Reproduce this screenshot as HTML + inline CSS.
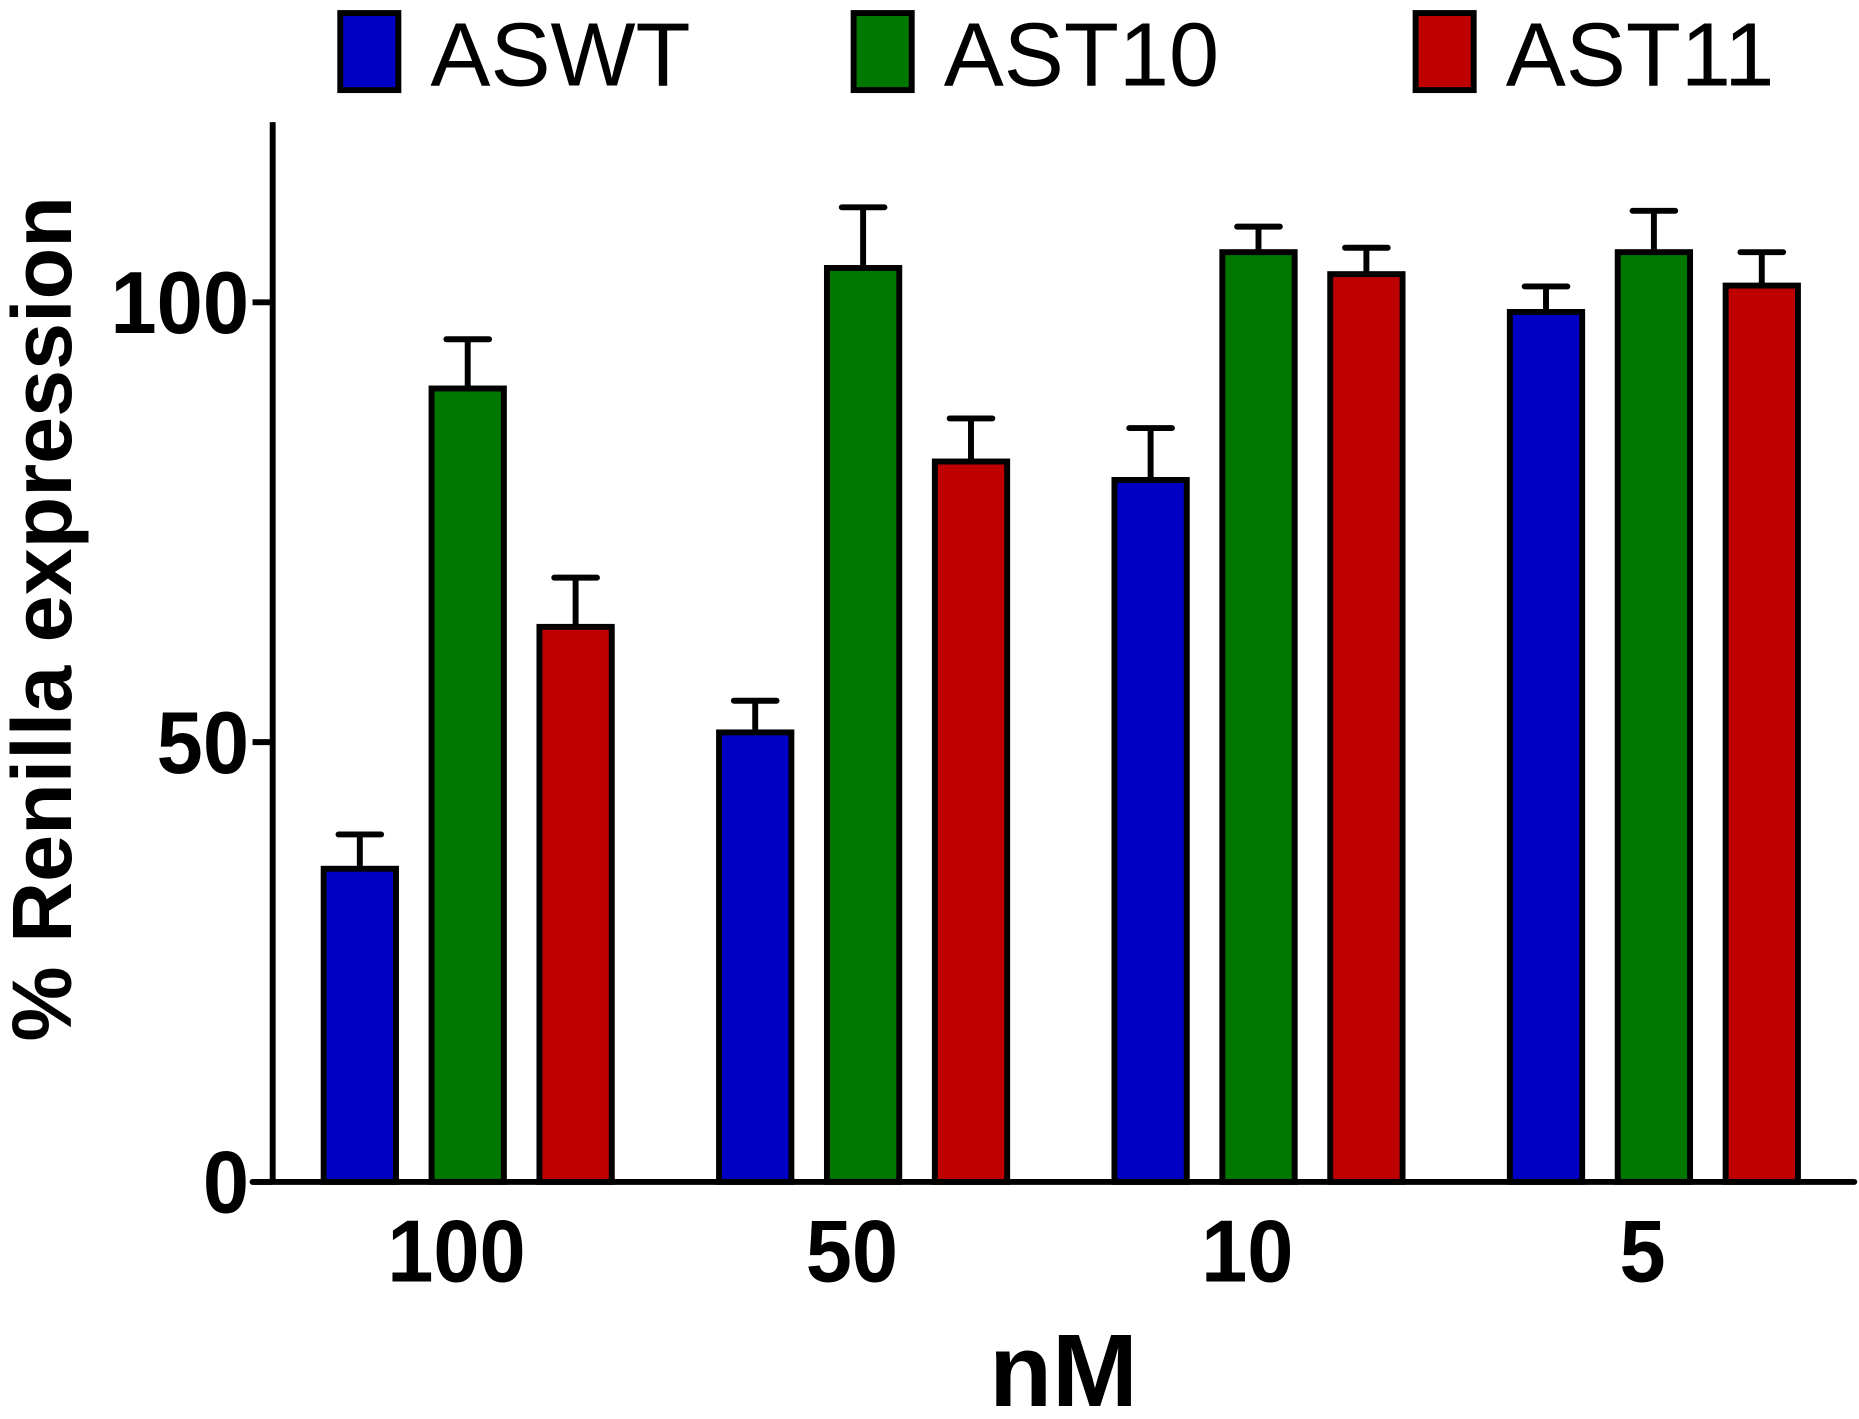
<!DOCTYPE html>
<html><head><meta charset="utf-8"><style>
html,body{margin:0;padding:0;background:#fff;}
svg{display:block;}
text{font-family:"Liberation Sans",sans-serif;}
</style></head><body>
<svg id="chart" width="1859" height="1419" viewBox="0 0 1568 1197" preserveAspectRatio="none" xmlns="http://www.w3.org/2000/svg">
<g id="legend"></g>
<g id="bars"></g>
<g id="axes"></g>
<text x="0" y="0" transform="translate(60,522) rotate(-90) scale(1.08,1.08)" text-anchor="middle" font-weight="bold" font-size="66">% Renilla expression</text>
<text x="0" y="0" transform="translate(897,1186) scale(1.06,1.06)" text-anchor="middle" font-weight="bold" font-size="82">nM</text>
</svg>
<script>
const categories = ["100", "50", "10", "5"];
const seriesNames = ["ASWT", "AST10", "AST11"];
const aswt = [35.6, 51.1, 79.8, 98.9];
const ast10 = [90.2, 103.9, 105.7, 105.7];
const ast11 = [63.1, 81.9, 103.2, 101.9];
const aswtErr = [3.9, 3.6, 5.9, 2.9];
const ast10Err = [5.6, 6.9, 2.9, 4.7];
const ast11Err = [5.6, 4.9, 3.0, 3.8];
const yTicks = [0, 50, 100];

const NS = "http://www.w3.org/2000/svg";
const colors = ["#0000C4", "#007800", "#BE0000"];
const series = [aswt, ast10, ast11];
const errs = [aswtErr, ast10Err, ast11Err];
const x0 = 230, y0 = 997, pxPerUnit = 7.42;
function yScale(v){ return y0 - v * pxPerUnit; }
function groupStart(i){ return 273 + i * 333.5; }
function mk(tag, attrs, parent){ const e = document.createElementNS(NS, tag); for (const k in attrs) e.setAttribute(k, attrs[k]); parent.appendChild(e); return e; }

const bars = document.getElementById('bars');
categories.forEach((c, i) => {
  series.forEach((s, j) => {
    const bx = groupStart(i) + j * 91, bw = 61;
    const top = yScale(s[i]), etop = yScale(s[i] + errs[j][i]);
    const cx = bx + bw / 2;
    const eb = mk('line', {x1: cx, x2: cx, y1: top, y2: etop, stroke: '#000', 'stroke-width': 5}, bars);
    
    
    const cap = mk('line', {x1: cx - 18, x2: cx + 18, y1: etop, y2: etop, stroke: '#000', 'stroke-width': 5, 'stroke-linecap': 'round'}, bars);
    
    
    const r = mk('rect', {x: bx, y: top, width: bw, height: y0 - top, fill: colors[j], stroke: '#000', 'stroke-width': 5}, bars);
    
    
  });
  const t = mk('text', {x: 0, y: 0, 'text-anchor': 'middle', 'font-weight': 'bold', 'font-size': 70, transform: 'translate(' + (groupStart(i) + 112) + ',1081) scale(1,1.06)'}, bars);
  t.textContent = c;
  
  
});

const axes = document.getElementById('axes');
const ya = mk('line', {x1: x0, x2: x0, y1: 103, y2: y0 + 2, stroke: '#000', 'stroke-width': 5}, axes);


const xa = mk('line', {x1: 213, x2: 1564, y1: y0, y2: y0, stroke: '#000', 'stroke-width': 5, 'stroke-linecap': 'round'}, axes);


yTicks.forEach(v => {
  const tk = mk('line', {x1: 213, x2: x0, y1: yScale(v), y2: yScale(v), stroke: '#000', 'stroke-width': 5}, axes);
  
  
  const t = mk('text', {x: 0, y: 0, 'text-anchor': 'end', 'font-weight': 'bold', 'font-size': 70, transform: 'translate(210,' + (yScale(v) + 26) + ') scale(1,1.06)'}, axes);
  t.textContent = v;
  
  
});

const legend = document.getElementById('legend');
const lgX = [287, 720, 1194];
seriesNames.forEach((n, j) => {
  const r = mk('rect', {x: lgX[j], y: 11, width: 49, height: 65, fill: colors[j], stroke: '#000', 'stroke-width': 5}, legend);
  
  
  const t = mk('text', {x: lgX[j] + 76, y: 72, 'font-size': 76}, legend);
  t.textContent = n;
  
  
});
</script>
</body></html>
